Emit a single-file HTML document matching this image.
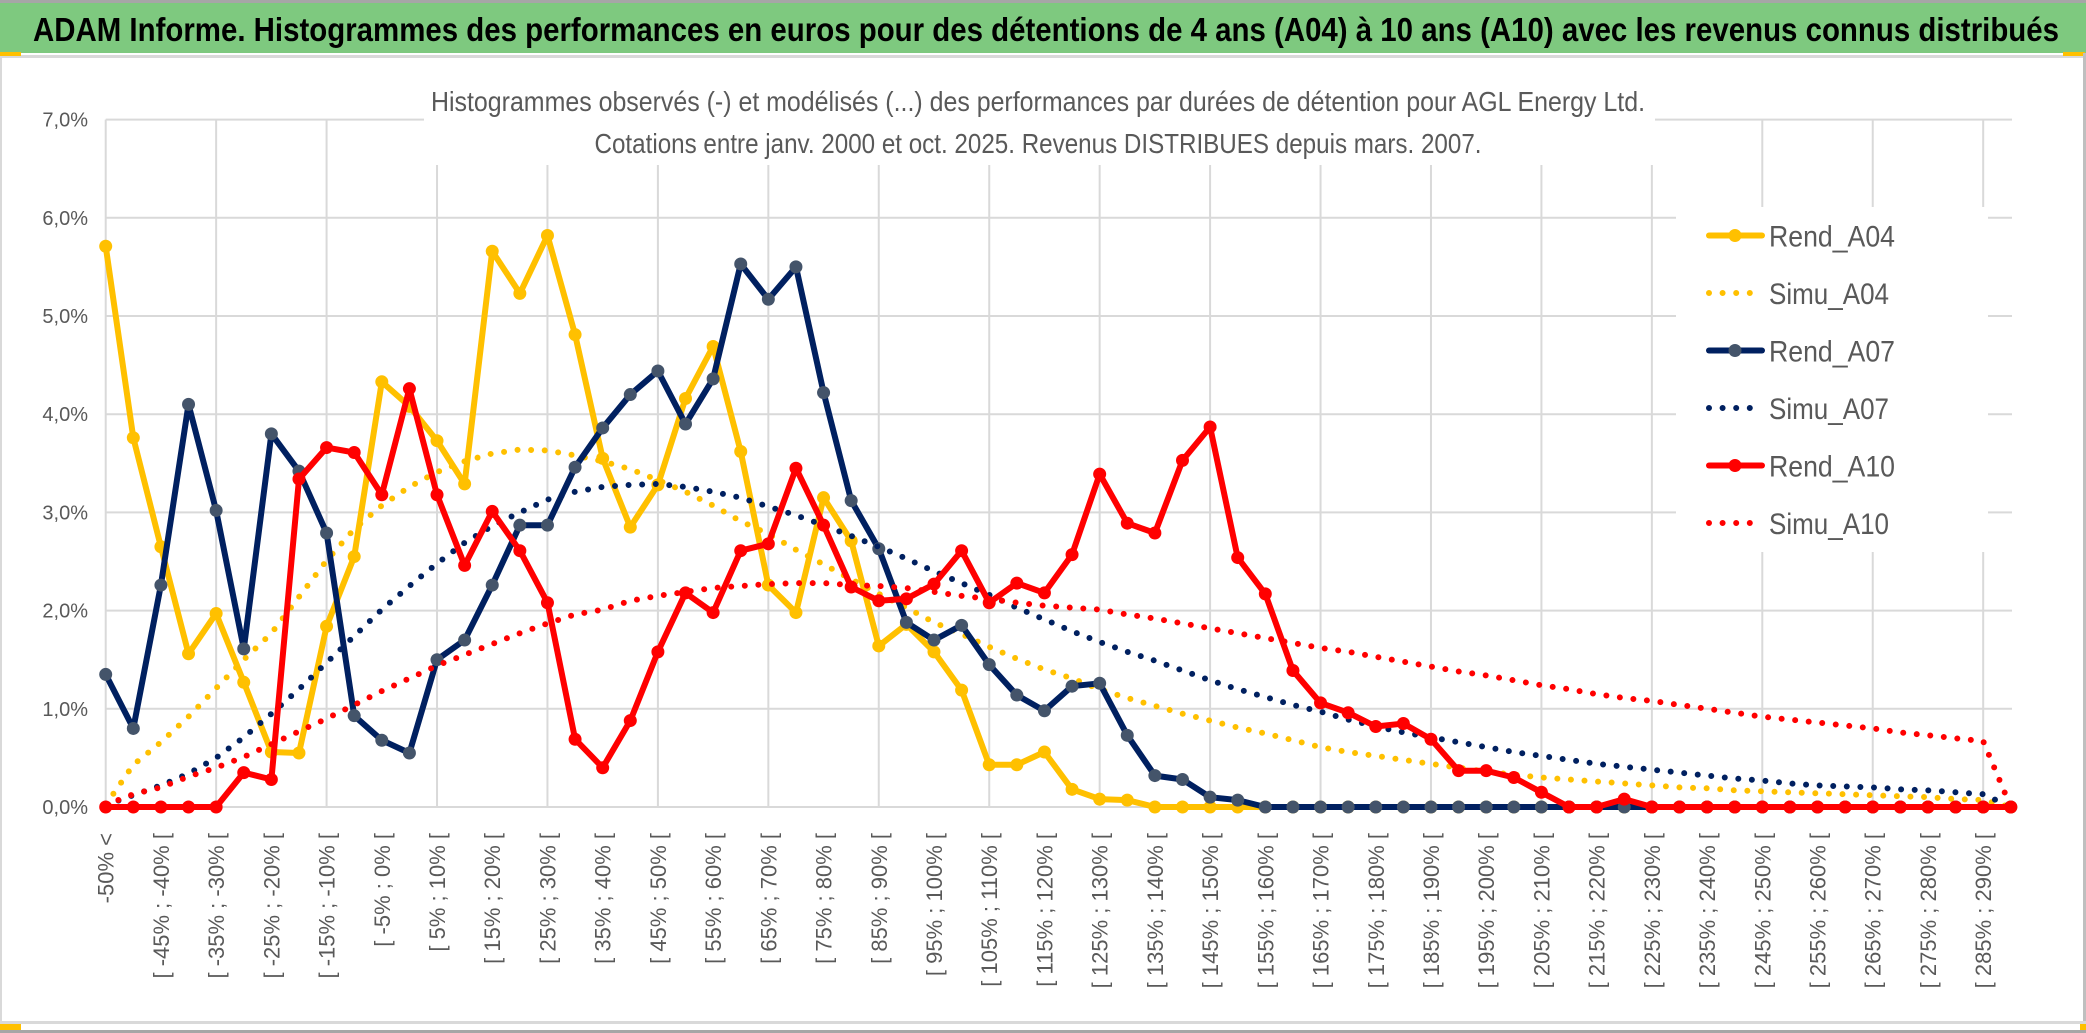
<!DOCTYPE html>
<html><head><meta charset="utf-8"><style>
html,body{margin:0;padding:0;background:#fff;}
svg{display:block;font-family:"Liberation Sans",sans-serif;}
</style></head><body>
<svg id="chart" width="2086" height="1033" viewBox="0 0 2086 1033" xmlns="http://www.w3.org/2000/svg">
<rect x="0" y="0" width="2086" height="1033" fill="#fff"/>
<rect x="0" y="0" width="2086" height="3" fill="#A6A6A6"/>
<rect x="0" y="3" width="2086" height="50" fill="#7EC97F"/>
<rect x="0" y="55" width="2086" height="3" fill="#D9D9D9"/>
<rect x="0" y="52" width="21" height="4" fill="#FFC000"/>
<rect x="2063" y="52" width="22" height="4" fill="#FFC000"/>
<rect x="2083" y="53" width="3" height="975" fill="#BFBFBF"/>
<rect x="0" y="56" width="2" height="972" fill="#D9D9D9"/>
<rect x="0" y="1021" width="2086" height="3" fill="#D9D9D9"/>
<rect x="0" y="1030" width="2086" height="3" fill="#A6A6A6"/>
<rect x="0" y="1024" width="21" height="6" fill="#FFC000"/>
<rect x="2080" y="1024" width="6" height="6" fill="#FFC000"/>
<text x="33" y="41" font-size="33" font-weight="bold" fill="#000" textLength="2026" lengthAdjust="spacingAndGlyphs">ADAM Informe. Histogrammes des performances en euros pour des détentions de 4 ans (A04) à 10 ans (A10) avec les revenus connus distribués</text>
<g id="grid"></g>
<rect x="424" y="60" width="1231" height="105" fill="#fff"/>
<rect x="1676" y="207" width="312" height="345" fill="#fff"/>
<text x="1038" y="111" font-size="28" fill="#595959" text-anchor="middle" textLength="1214" lengthAdjust="spacingAndGlyphs">Histogrammes observés (-) et modélisés (...) des performances par durées de détention pour AGL Energy Ltd.</text>
<text x="1038" y="153" font-size="28" fill="#595959" text-anchor="middle" textLength="887" lengthAdjust="spacingAndGlyphs">Cotations entre janv. 2000 et oct. 2025. Revenus DISTRIBUES depuis mars. 2007.</text>
<g id="yaxis"></g>
<g id="xaxis"></g>
<g id="series"></g>
<g id="legend"></g>
</svg>
<script>
const yTicks = [0,1,2,3,4,5,6,7];
const yTickLabels = ["0,0%","1,0%","2,0%","3,0%","4,0%","5,0%","6,0%","7,0%"];
const categories = ["-50% <","[ -50% ; -45% [","[ -45% ; -40% [","[ -40% ; -35% [","[ -35% ; -30% [","[ -30% ; -25% [","[ -25% ; -20% [","[ -20% ; -15% [","[ -15% ; -10% [","[ -10% ; -5% [","[ -5% ; 0% [","[ 0% ; 5% [","[ 5% ; 10% [","[ 10% ; 15% [","[ 15% ; 20% [","[ 20% ; 25% [","[ 25% ; 30% [","[ 30% ; 35% [","[ 35% ; 40% [","[ 40% ; 45% [","[ 45% ; 50% [","[ 50% ; 55% [","[ 55% ; 60% [","[ 60% ; 65% [","[ 65% ; 70% [","[ 70% ; 75% [","[ 75% ; 80% [","[ 80% ; 85% [","[ 85% ; 90% [","[ 90% ; 95% [","[ 95% ; 100% [","[ 100% ; 105% [","[ 105% ; 110% [","[ 110% ; 115% [","[ 115% ; 120% [","[ 120% ; 125% [","[ 125% ; 130% [","[ 130% ; 135% [","[ 135% ; 140% [","[ 140% ; 145% [","[ 145% ; 150% [","[ 150% ; 155% [","[ 155% ; 160% [","[ 160% ; 165% [","[ 165% ; 170% [","[ 170% ; 175% [","[ 175% ; 180% [","[ 180% ; 185% [","[ 185% ; 190% [","[ 190% ; 195% [","[ 195% ; 200% [","[ 200% ; 205% [","[ 205% ; 210% [","[ 210% ; 215% [","[ 215% ; 220% [","[ 220% ; 225% [","[ 225% ; 230% [","[ 230% ; 235% [","[ 235% ; 240% [","[ 240% ; 245% [","[ 245% ; 250% [","[ 250% ; 255% [","[ 255% ; 260% [","[ 260% ; 265% [","[ 265% ; 270% [","[ 270% ; 275% [","[ 275% ; 280% [","[ 280% ; 285% [","[ 285% ; 290% [","> 290%"];
const rendA04 = [5.71,3.76,2.65,1.56,1.97,1.27,0.56,0.55,1.84,2.55,4.33,4.08,3.73,3.29,5.66,5.23,5.82,4.81,3.55,2.85,3.28,4.16,4.69,3.62,2.26,1.98,3.15,2.71,1.64,1.86,1.58,1.19,0.43,0.43,0.56,0.18,0.08,0.07,0,0,0,0,0,0,0,0,0,0,0,0,0,0,0,0,0,0,0,0,0,0,0,0,0,0,0,0,0,0,0,0];
const simuA04 = [0.02,0.43,0.66,0.92,1.21,1.50,1.77,2.14,2.51,2.83,3.07,3.26,3.41,3.52,3.60,3.64,3.63,3.58,3.52,3.44,3.33,3.21,3.07,2.91,2.78,2.62,2.47,2.32,2.17,2.03,1.88,1.76,1.63,1.51,1.40,1.31,1.20,1.11,1.03,0.95,0.88,0.81,0.75,0.68,0.61,0.56,0.52,0.48,0.44,0.40,0.36,0.33,0.30,0.28,0.26,0.24,0.22,0.20,0.19,0.17,0.16,0.15,0.14,0.13,0.12,0.11,0.10,0.08,0.07,0.0];
const rendA07 = [1.35,0.80,2.26,4.10,3.02,1.61,3.80,3.42,2.79,0.93,0.68,0.55,1.50,1.70,2.26,2.87,2.87,3.46,3.86,4.20,4.44,3.90,4.36,5.53,5.17,5.50,4.22,3.12,2.63,1.88,1.70,1.85,1.45,1.14,0.98,1.23,1.26,0.73,0.32,0.28,0.10,0.07,0,0,0,0,0,0,0,0,0,0,0,0,0,0,0,0,0,0,0,0,0,0,0,0,0,0,0,0];
const simuA07 = [0.02,0.12,0.22,0.34,0.50,0.71,0.95,1.20,1.47,1.74,2.01,2.25,2.48,2.69,2.86,3.00,3.13,3.21,3.26,3.28,3.29,3.26,3.21,3.15,3.06,2.97,2.87,2.76,2.65,2.53,2.40,2.28,2.16,2.03,1.91,1.79,1.68,1.58,1.49,1.39,1.29,1.20,1.12,1.04,0.97,0.89,0.82,0.76,0.71,0.66,0.61,0.56,0.52,0.48,0.44,0.41,0.38,0.35,0.32,0.29,0.27,0.24,0.22,0.21,0.20,0.18,0.17,0.15,0.13,0.0];
const rendA10 = [0,0,0,0,0,0.35,0.28,3.34,3.66,3.61,3.18,4.26,3.18,2.46,3.01,2.61,2.08,0.69,0.40,0.88,1.58,2.18,1.98,2.61,2.68,3.45,2.87,2.24,2.10,2.12,2.27,2.61,2.08,2.28,2.18,2.57,3.39,2.89,2.79,3.53,3.87,2.54,2.17,1.39,1.06,0.96,0.82,0.85,0.69,0.37,0.37,0.30,0.15,0,0,0.08,0,0,0,0,0,0,0,0,0,0,0,0,0,0];
const simuA10 = [0.02,0.13,0.20,0.31,0.40,0.51,0.64,0.77,0.90,1.04,1.18,1.31,1.44,1.55,1.66,1.77,1.87,1.96,2.01,2.10,2.15,2.19,2.23,2.25,2.27,2.28,2.28,2.26,2.25,2.23,2.19,2.15,2.12,2.08,2.05,2.03,2.01,1.96,1.92,1.87,1.82,1.77,1.72,1.67,1.62,1.58,1.53,1.48,1.43,1.38,1.34,1.29,1.24,1.20,1.15,1.11,1.08,1.04,1.00,0.96,0.92,0.89,0.86,0.83,0.80,0.76,0.73,0.70,0.67,0.0];

const NS = "http://www.w3.org/2000/svg";
const X0 = 105.7, DX = 27.61, Y0 = 807, DY = 98.2, XR = 2012;
function xPos(i){ return X0 + DX * i; }
function yPos(v){ return Y0 - DY * v; }
function mk(tag, parent){ const e = document.createElementNS(NS, tag); parent.appendChild(e); return e; }

const grid = document.getElementById('grid');
for (let i = 0; i < categories.length; i += 4) {
  const l = mk('line', grid);
  
  
  l.setAttribute('x1', xPos(i)); l.setAttribute('x2', xPos(i));
  l.setAttribute('y1', yPos(7)); l.setAttribute('y2', yPos(0));
  l.setAttribute('stroke', '#D9D9D9'); l.setAttribute('stroke-width', '2');
}
yTicks.forEach(function(t){
  const l = mk('line', grid);
  
  
  l.setAttribute('x1', X0); l.setAttribute('x2', XR);
  l.setAttribute('y1', yPos(t)); l.setAttribute('y2', yPos(t));
  l.setAttribute('stroke', '#D9D9D9'); l.setAttribute('stroke-width', '2');
});

const yaxis = document.getElementById('yaxis');
yTicks.forEach(function(t, k){
  const tx = mk('text', yaxis);
  
  
  tx.setAttribute('x', 88); tx.setAttribute('y', yPos(t) + 7);
  tx.setAttribute('text-anchor', 'end'); tx.setAttribute('font-size', '20');
  tx.setAttribute('fill', '#595959');
  tx.textContent = yTickLabels[k];
});

const xaxis = document.getElementById('xaxis');
categories.forEach(function(c, i){
  if (i % 2 !== 0 || i > 68) return;
  const tx = mk('text', xaxis);
  
  
  const x = xPos(i) + 8, y = 833;
  tx.setAttribute('x', x); tx.setAttribute('y', y);
  tx.setAttribute('transform', 'rotate(-90 ' + x + ' ' + y + ')');
  tx.setAttribute('text-anchor', 'end'); tx.setAttribute('font-size', '22');
  tx.setAttribute('fill', '#595959');
  tx.textContent = c;
});

const seriesG = document.getElementById('series');
function pathFor(arr){ return arr.map(function(v,i){ return (i ? 'L' : 'M') + xPos(i).toFixed(1) + ' ' + yPos(v).toFixed(1); }).join(' '); }
function drawSolid(arr, color, mcolor, name){
  const g = mk('g', seriesG);
  
  
  const p = mk('path', g);
  
  
  p.setAttribute('d', pathFor(arr)); p.setAttribute('fill', 'none');
  p.setAttribute('stroke', color); p.setAttribute('stroke-width', '6');
  p.setAttribute('stroke-linejoin', 'round');
  arr.forEach(function(v, i){
    const c = mk('circle', g);
    
    
    c.setAttribute('cx', xPos(i)); c.setAttribute('cy', yPos(v)); c.setAttribute('r', '6.5');
    c.setAttribute('fill', mcolor);
  });
}
function drawDotted(arr, color, name){
  const p = mk('path', seriesG);
  
  
  p.setAttribute('d', pathFor(arr)); p.setAttribute('fill', 'none');
  p.setAttribute('stroke', color); p.setAttribute('stroke-width', '6');
  p.setAttribute('stroke-linecap', 'round'); p.setAttribute('stroke-dasharray', '0 13.6');
}
drawSolid(rendA04, '#FFC000', '#FFC000', 'rend-a04');
drawDotted(simuA04, '#FFC000', 'simu-a04');
drawSolid(rendA07, '#002060', '#44546A', 'rend-a07');
drawDotted(simuA07, '#002060', 'simu-a07');
drawSolid(rendA10, '#FF0000', '#FF0000', 'rend-a10');
drawDotted(simuA10, '#FF0000', 'simu-a10');

const legend = document.getElementById('legend');
const legendNames = ['Rend_A04','Simu_A04','Rend_A07','Simu_A07','Rend_A10','Simu_A10'];
const legendColors = ['#FFC000','#FFC000','#002060','#002060','#FF0000','#FF0000'];
const legendMarkers = ['#FFC000','#FFC000','#44546A','#44546A','#FF0000','#FF0000'];
legendNames.forEach(function(n, k){
  const y = 235.5 + 57.5 * k;
  const g = mk('g', legend);
  
  
  const l = mk('line', g);
  
  
  l.setAttribute('x1', 1709); l.setAttribute('x2', 1762); l.setAttribute('y1', y); l.setAttribute('y2', y);
  l.setAttribute('stroke', legendColors[k]); l.setAttribute('stroke-width', '6'); l.setAttribute('stroke-linecap', 'round');
  if (k % 2 === 1) { l.setAttribute('stroke-dasharray', '0 13.6'); l.setAttribute('x2', 1755); }
  else {
    const c = mk('circle', g);
    
    
    c.setAttribute('cx', 1735); c.setAttribute('cy', y); c.setAttribute('r', '6.5'); c.setAttribute('fill', legendMarkers[k]);
  }
  const t = mk('text', g);
  
  
  t.setAttribute('x', 1769); t.setAttribute('y', y + 11);
  t.setAttribute('font-size', '30'); t.setAttribute('fill', '#595959');
  t.setAttribute('textLength', k % 2 ? '120' : '126'); t.setAttribute('lengthAdjust', 'spacingAndGlyphs');
  t.textContent = n;
});
</script>
</body></html>
